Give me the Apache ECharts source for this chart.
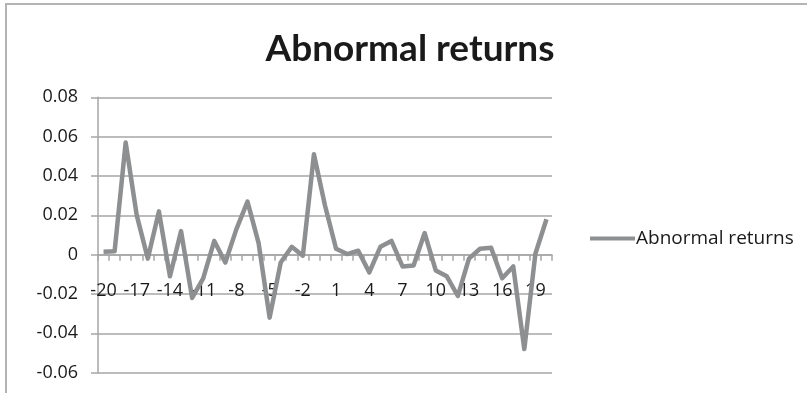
<!DOCTYPE html>
<html>
<head>
<meta charset="utf-8">
<script src="https://cdn.jsdelivr.net/npm/echarts@6/dist/echarts.min.js"></script>
<style>
  html, body { margin: 0; padding: 0; background: #ffffff; }
  #chart { width: 807px; height: 393px; }
</style>
</head>
<body>
<div id="chart"></div>
<script>
// Event days around the announcement (t = -20 ... 20)
const eventDays = [
  -20, -19, -18, -17, -16, -15, -14, -13, -12, -11,
  -10, -9, -8, -7, -6, -5, -4, -3, -2, -1,
  0, 1, 2, 3, 4, 5, 6, 7, 8, 9,
  10, 11, 12, 13, 14, 15, 16, 17, 18, 19, 20
];

// Abnormal return for each event day
const abnormalReturns = [
  0.0015, 0.0017, 0.057, 0.020, -0.002, 0.022, -0.011, 0.012, -0.022, -0.012,
  0.007, -0.004, 0.013, 0.027, 0.006, -0.032, -0.004, 0.004, -0.0005, 0.051,
  0.025, 0.003, 0.0003, 0.002, -0.009, 0.004, 0.007, -0.006, -0.0055, 0.011,
  -0.008, -0.011, -0.021, -0.002, 0.003, 0.0035, -0.012, -0.006, -0.048, 0.0005, 0.018
];

// Value axis range and step
const yMin = -0.06;
const yMax = 0.08;
const yStep = 0.02;

const seriesName = 'Abnormal returns';
const chartTitle = 'Abnormal returns';

const axisGray = '#a6a6a6';
const lineGray = '#8e8f90';
const textColor = '#1a1a1a';
const fontFamily = '"Open Sans", "Liberation Sans", sans-serif';

const W = 807, H = 393;
const gridTop = 97.3, gridBottom = 20.3;
const plotHeight = H - gridTop - gridBottom;
// The category axis (with its ticks and labels) sits on the zero line
const zeroOffset = -plotHeight * (0 - yMin) / (yMax - yMin);

const chart = echarts.init(document.getElementById('chart'), null, { renderer: 'canvas' });

chart.setOption({
  animation: false,
  backgroundColor: '#ffffff',
  graphic: [{
    type: 'rect',
    silent: true,
    shape: { x: 6, y: 4, width: 900, height: 500 },
    style: { fill: 'none', stroke: '#b4b4b4', lineWidth: 2 }
  }],
  title: {
    text: chartTitle,
    left: 405,
    top: 26,
    textAlign: 'center',
    textStyle: {
      fontFamily: 'Lato, "Open Sans", sans-serif',
      fontSize: 37,
      fontWeight: 'bold',
      color: textColor
    }
  },
  legend: {
    data: [seriesName],
    left: 585,
    top: 224,
    orient: 'vertical',
    itemWidth: 45,
    itemHeight: 4,
    itemGap: 4,
    icon: 'rect',
    textStyle: {
      fontFamily: fontFamily,
      fontSize: 19,
      color: textColor,
      padding: [0, 0, 0, -4]
    }
  },
  grid: {
    left: 98,
    right: 255,
    top: gridTop,
    bottom: gridBottom,
    containLabel: false,
    outerBoundsMode: 'none'
  },
  xAxis: {
    type: 'category',
    data: eventDays,
    boundaryGap: true,
    offset: zeroOffset,
    axisLine: { onZero: false, lineStyle: { color: axisGray, width: 1.5 } },
    axisTick: {
      show: true,
      interval: 0,
      alignWithLabel: false,
      length: 6,
      lineStyle: { color: axisGray, width: 1.5 }
    },
    axisLabel: {
      interval: 2,
      margin: 27,
      fontFamily: fontFamily,
      fontSize: 18,
      color: textColor
    },
    splitLine: { show: false }
  },
  yAxis: {
    type: 'value',
    min: yMin,
    max: yMax,
    interval: yStep,
    axisLine: { show: true, lineStyle: { color: axisGray, width: 1.5 } },
    axisTick: { show: true, length: 7, lineStyle: { color: axisGray, width: 1.5 } },
    axisLabel: {
      margin: 20,
      fontFamily: fontFamily,
      fontSize: 18,
      color: textColor,
      formatter: function (v) {
        const r = Math.round(v * 100) / 100;
        return r === 0 ? '0' : r.toFixed(2);
      }
    },
    splitLine: { show: true, lineStyle: { color: axisGray, width: 1.5 } }
  },
  series: [{
    name: seriesName,
    type: 'line',
    data: abnormalReturns,
    symbol: 'none',
    smooth: false,
    lineStyle: { color: lineGray, width: 4.5, join: 'round' },
    itemStyle: { color: lineGray }
  }]
});
</script>
</body>
</html>
